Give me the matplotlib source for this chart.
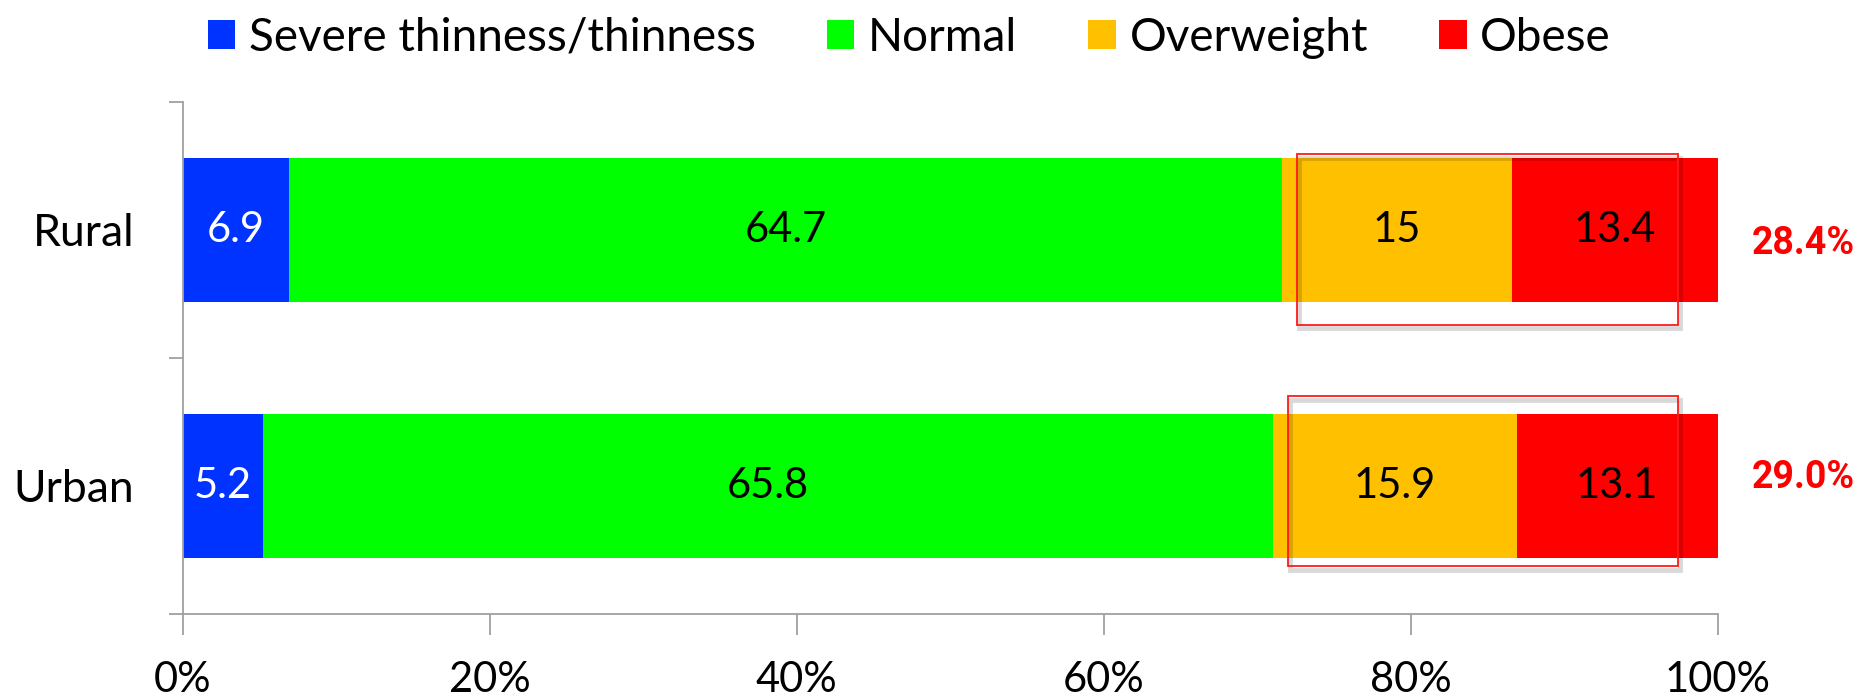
import numpy as np
import matplotlib.pyplot as plt
from matplotlib.patches import Patch, Rectangle
import matplotlib.patheffects as pe

plt.rcParams['font.family'] = ['Lato', 'DejaVu Sans']

# BMI categories by residence (percent)
places = ["Urban", "Rural"]
classes = ["Severe thinness/thinness", "Normal", "Overweight", "Obese"]
thin = [5.2, 6.9]
normal = [65.8, 64.7]
overweight = [15.9, 15.0]
obese = [13.1, 13.4]
value_text = [["5.2", "65.8", "15.9", "13.1"],
              ["6.9", "64.7", "15", "13.4"]]

colors = ["#0033ff", "#00ff00", "#ffc000", "#ff0000"]
axis_gray = "#a0a0a0"

series = [thin, normal, overweight, obese]

fig = plt.figure(figsize=(18.67, 6.99), dpi=100)
ax = fig.add_axes([0.098, 0.1216, 0.822, 0.7325])

ypos = np.arange(len(places))
bar_h = 0.56
left = np.zeros(len(places))
for k, (vals, col) in enumerate(zip(series, colors)):
    vals = np.array(vals)
    ax.barh(ypos, vals, left=left, height=bar_h, color=col, edgecolor="none")
    for i in range(len(places)):
        ax.text(left[i] + vals[i] / 2, ypos[i], value_text[i][k],
                ha="center", va="center", fontsize=30,
                color="white" if k == 0 else "black")
    left = left + vals

# boxes around overweight + obese, with the combined share beside them
box_shift = [0.016, -0.04]
label_shift = [0.035, -0.051]
start = np.array(thin) + np.array(normal)
for i in range(len(places)):
    x0 = start[i] + 1.0
    y0 = ypos[i] - 0.33 + box_shift[i]
    rect = Rectangle((x0, y0), 97.4 - x0, 0.665, fill=False,
                     edgecolor="#ff1a1a", linewidth=1.3, clip_on=False)
    rect.set_path_effects([pe.SimpleLineShadow(offset=(1.5, -2.5), shadow_color="black",
                                               alpha=0.15, linewidth=3.5),
                           pe.Normal()])
    ax.add_patch(rect)
    share = overweight[i] + obese[i]
    ax.text(105.55, ypos[i] + label_shift[i], "%.1f%%" % share, ha="center", va="center",
            fontsize=27, fontweight="bold", family=["Roboto", "DejaVu Sans"],
            color="#ff0000", clip_on=False)

ax.set_xlim(0, 100)
ax.set_ylim(-0.5, 1.5)

ax.set_xticks(np.arange(0, 101, 20))
ax.set_xticklabels(["%d%%" % v for v in range(0, 101, 20)])
ax.tick_params(axis="x", direction="out", length=15, width=1.3,
               color=axis_gray, labelsize=30, pad=19)

ax.set_yticks([-0.5, 0.5, 1.5])
ax.set_yticklabels([])
ax.set_yticks(ypos, minor=True)
ax.set_yticklabels(places, minor=True)
ax.tick_params(axis="y", which="major", direction="out", length=10, width=1.3,
               color=axis_gray)
ax.tick_params(axis="y", which="minor", length=0, labelsize=32, pad=35)

for s in ["top", "right"]:
    ax.spines[s].set_visible(False)
for s in ["left", "bottom"]:
    ax.spines[s].set_color(axis_gray)
    ax.spines[s].set_linewidth(1.3)

handles = [Patch(facecolor=c, edgecolor="none") for c in colors]
fig.legend(handles, classes, loc="upper center", bbox_to_anchor=(0.487, 1.035),
           ncol=4, frameon=False, fontsize=33, handlelength=0.6,
           handleheight=0.6, handletextpad=0.3, columnspacing=1.55)

fig.savefig("out.png", dpi=100)
